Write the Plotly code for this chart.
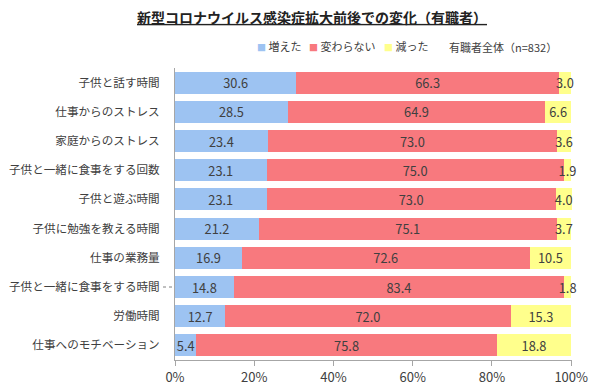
import plotly.graph_objects as go

categories = ["子供と話す時間", "仕事からのストレス", "家庭からのストレス", "子供と一緒に食事をする回数",
              "子供と遊ぶ時間", "子供に勉強を教える時間", "仕事の業務量", "子供と一緒に食事をする時間",
              "労働時間", "仕事へのモチベーション"]
increased = [30.6, 28.5, 23.4, 23.1, 23.1, 21.2, 16.9, 14.8, 12.7, 5.4]
unchanged = [66.3, 64.9, 73.0, 75.0, 73.0, 75.1, 72.6, 83.4, 72.0, 75.8]
decreased = [3.0, 6.6, 3.6, 1.9, 4.0, 3.7, 10.5, 1.8, 15.3, 18.8]
series_names = ["増えた", "変わらない", "減った"]
colors = ["#9DC3F2", "#F8797E", "#FFFF8C"]
tick_vals = [0, 20, 40, 60, 80, 100]
tick_text = ["0%", "20%", "40%", "60%", "80%", "100%"]

FONT = "Noto Sans CJK JP"
L, R, T, B = 175, 28, 68, 31
PW, PH = 600 - L - R, 391 - T - B

fig = go.Figure()
for name, vals, col in zip(series_names, [increased, unchanged, decreased], colors):
    fig.add_trace(go.Bar(
        y=categories, x=vals, name=name, orientation="h",
        marker=dict(color=col, line=dict(width=0)),
        text=[f"{v:.1f}" for v in vals], textposition="inside", textangle=0,
        insidetextanchor="middle", constraintext="none", cliponaxis=False,
        textfont=dict(family=FONT, size=12.8, color="#404040"),
        showlegend=False,
    ))

fig.update_layout(
    barmode="stack", bargap=0.25,
    width=600, height=391,
    margin=dict(l=L, r=R, t=T, b=B),
    paper_bgcolor="white", plot_bgcolor="white",
    font=dict(family=FONT, size=12, color="#404040"),
    title=dict(text="<b><u>新型コロナウイルス感染症拡大前後での変化（有職者）</u></b>",
               x=312/600, xanchor="center", y=1-18/391, yanchor="middle",
               font=dict(family=FONT, size=14, color="#222222")),
)
fig.update_xaxes(range=[0, 100.2], tickvals=tick_vals, ticktext=tick_text, automargin=False,
                 showgrid=False, zeroline=False, showline=True, linecolor="#A6A6A6",
                 ticks="outside", ticklen=5, tickcolor="#A6A6A6",
                 tickfont=dict(family=FONT, size=13, color="#404040"))
fig.update_yaxes(autorange="reversed", showgrid=False, showline=True, linecolor="#A6A6A6",
                 ticks="", ticklabelstandoff=12, automargin=False,
                 tickfont=dict(family=FONT, size=11.6, color="#404040"))

# small dotted leader after one category label (as in the original)
fig.add_shape(type="line", xref="paper", yref="y", x0=-12/PW, x1=-2/PW,
              y0=categories[7], y1=categories[7],
              line=dict(color="#808080", width=1, dash="dot"))

legend_x = [255, 307, 382]
for n, c, lx in zip(series_names, colors, legend_x):
    fig.add_annotation(text=f"<span style='font-size:9px;color:{c}'>■</span> {n}",
                       xref="paper", yref="paper", x=(lx - L)/PW, y=1 + (T - 46)/PH,
                       xanchor="left", yanchor="middle", showarrow=False,
                       font=dict(family=FONT, size=11, color="#404040"))
fig.add_annotation(text="有職者全体（n=832）", xref="paper", yref="paper", x=(447 - L)/PW, y=1 + (T - 47)/PH,
                   xanchor="left", yanchor="middle", showarrow=False,
                   font=dict(family=FONT, size=11, color="#404040"))

fig.write_html("out.html", config={"displayModeBar": False},
               post_script="document.body.style.margin='0';document.body.style.padding='0';")
